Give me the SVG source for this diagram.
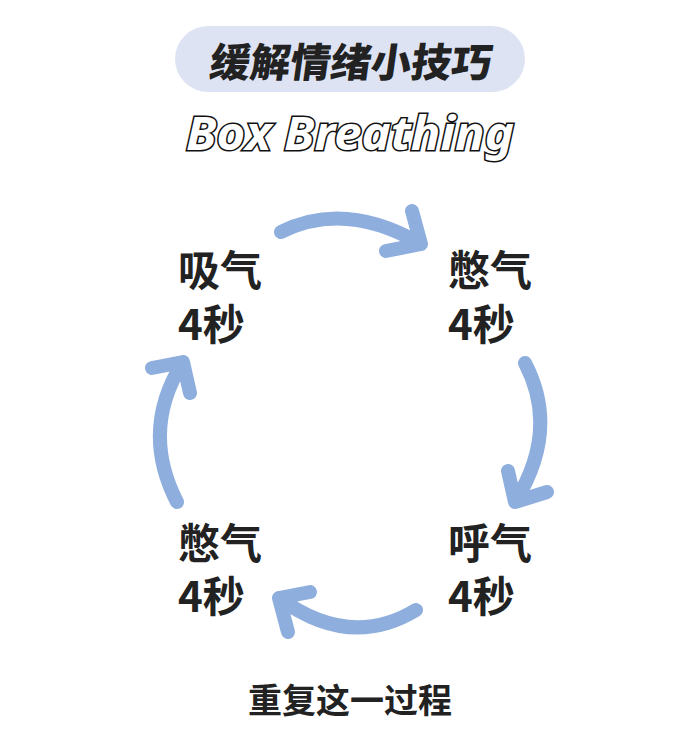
<svg xmlns="http://www.w3.org/2000/svg" width="700" height="756" viewBox="0 0 700 756">
<defs>
<style>
.lbl{font-family:"Noto Sans CJK SC","Noto Sans",sans-serif;font-weight:700;font-size:42px;fill:#222}
.arr{fill:none;stroke:#8eaede;stroke-width:14;stroke-linecap:round;stroke-linejoin:round}
</style>
</defs>
<rect width="700" height="756" fill="#ffffff"/>
<g id="title">
<rect x="175" y="26" width="350" height="66" rx="33" fill="#dde3f2"/>
<text x="350" y="77" text-anchor="middle" transform="skewX(-8) translate(10,0)" style="font-family:'Noto Sans CJK SC',sans-serif;font-weight:900;font-size:40px;fill:#222" textLength="282" lengthAdjust="spacingAndGlyphs">缓解情绪小技巧</text>
</g>
<g id="subtitle">
<text x="350" y="150" text-anchor="middle" style="font-family:'Noto Sans','DejaVu Sans',sans-serif;font-weight:700;font-style:italic;font-size:46px;fill:#ffffff;stroke:#111;stroke-width:3;paint-order:stroke" textLength="328" lengthAdjust="spacingAndGlyphs">Box Breathing</text>
</g>
<g id="n-inhale"><text class="lbl" x="178" y="286">吸气</text><text class="lbl" x="178" y="340">4秒</text></g>
<g id="n-hold1"><text class="lbl" x="448" y="286">憋气</text><text class="lbl" x="448" y="340">4秒</text></g>
<g id="n-exhale"><text class="lbl" x="448" y="559">呼气</text><text class="lbl" x="448" y="612">4秒</text></g>
<g id="n-hold2"><text class="lbl" x="178" y="559">憋气</text><text class="lbl" x="178" y="612">4秒</text></g>
<g id="connectors">
<path class="arr" d="M281 232 Q345 200 421 244 M412 211 L421 244 L386 251"/>
<path class="arr" d="M525 363 Q560 430 515 502 M508 471 L515 502 L547 492"/>
<path class="arr" d="M416 610 Q350 650 279 598 M310 592 L279 598 L288 632"/>
<path class="arr" d="M177 502 Q140 430 183 362 M152 368 L183 362 L190 393"/>
</g>
<g id="footer">
<text x="350" y="713" text-anchor="middle" style="font-family:'Noto Sans CJK SC',sans-serif;font-weight:700;font-size:34px;fill:#222">重复这一过程</text>
</g>
</svg>
